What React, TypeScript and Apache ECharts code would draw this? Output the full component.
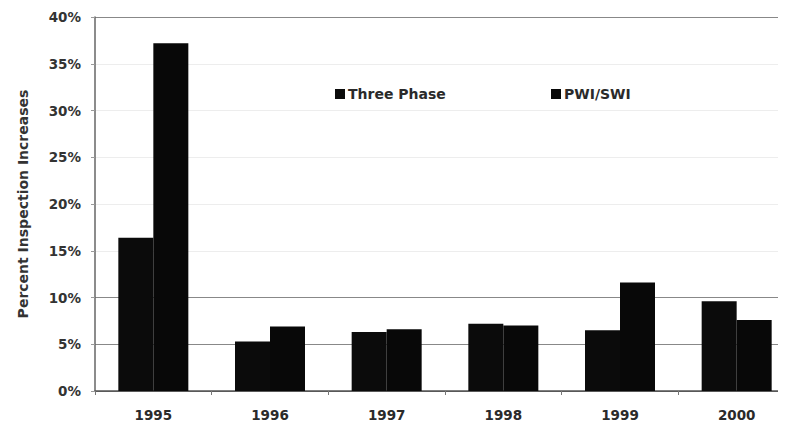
import React, { useEffect, useRef } from "react";
import * as echarts from "echarts";

const categories = ["1995", "1996", "1997", "1998", "1999", "2000"];
const threePhase = [16.4, 5.3, 6.3, 7.2, 6.5, 9.6];
const pwiSwi = [37.2, 6.9, 6.6, 7.0, 11.6, 7.6];
const seriesNames = ["Three Phase", "PWI/SWI"];

export default function App() {
  const ref = useRef<HTMLDivElement>(null);
  useEffect(() => {
    const chart = echarts.init(ref.current!, null, { renderer: "svg" });
    const font = "'DejaVu Sans', Verdana, sans-serif";
    const legendText = { fontFamily: font, fontSize: 14, fontWeight: "bold", color: "#2a2a2a", padding: [0, 0, 0, -2] };
    chart.setOption({
      animation: false,
      backgroundColor: "#fff",
      textStyle: { fontFamily: font },
      legend: [
        {
          left: 330,
          top: 82,
          itemWidth: 10,
          itemHeight: 10,
          icon: "rect",
          textStyle: legendText,
          data: [seriesNames[0]],
        },
        {
          left: 546,
          top: 82,
          itemWidth: 10,
          itemHeight: 10,
          icon: "rect",
          textStyle: legendText,
          data: [seriesNames[1]],
        },
      ],
      grid: { left: 95, top: 17, width: 700, bottom: 39 },
      xAxis: {
        type: "category",
        data: categories,
        axisLine: { lineStyle: { color: "#555", width: 1.5 } },
        axisTick: { show: true, length: 4, lineStyle: { color: "#777" } },
        axisLabel: { fontFamily: font, fontSize: 13.5, fontWeight: "bold", color: "#2a2a2a", margin: 17 },
      },
      yAxis: {
        type: "value",
        min: 0,
        max: 40,
        interval: 5,
        name: "Percent Inspection Increases",
        nameLocation: "middle",
        nameGap: 65,
        nameTextStyle: { fontFamily: font, fontSize: 14, fontWeight: "bold", color: "#333" },
        axisLine: { show: true, lineStyle: { color: "#666", width: 1.5 } },
        axisTick: { show: true, length: 4, lineStyle: { color: "#999" } },
        axisLabel: {
          fontFamily: font,
          fontSize: 13.5,
          fontWeight: "bold",
          color: "#333",
          margin: 14,
          formatter: (v: number) => v + "%",
        },
        splitLine: {
          show: true,
          lineStyle: {
            color: ["#666", "#888", "#888", "#ededed", "#ededed", "#ededed", "#ededed", "#ededed", "#888"],
            width: 1.2,
          },
        },
      },
      series: [
        {
          name: seriesNames[0],
          type: "bar",
          data: threePhase,
          barGap: "0%",
          barCategoryGap: "40%",
          itemStyle: { color: "#0b0b0b" },
        },
        {
          name: seriesNames[1],
          type: "bar",
          data: pwiSwi,
          itemStyle: { color: "#080808" },
        },
      ],
    });
    return () => chart.dispose();
  }, []);
  return (
    <div style={{ width: 786, height: 430, margin: -8, overflow: "hidden", position: "relative" }}>
      <div ref={ref} style={{ width: 810, height: 430 }} />
    </div>
  );
}
